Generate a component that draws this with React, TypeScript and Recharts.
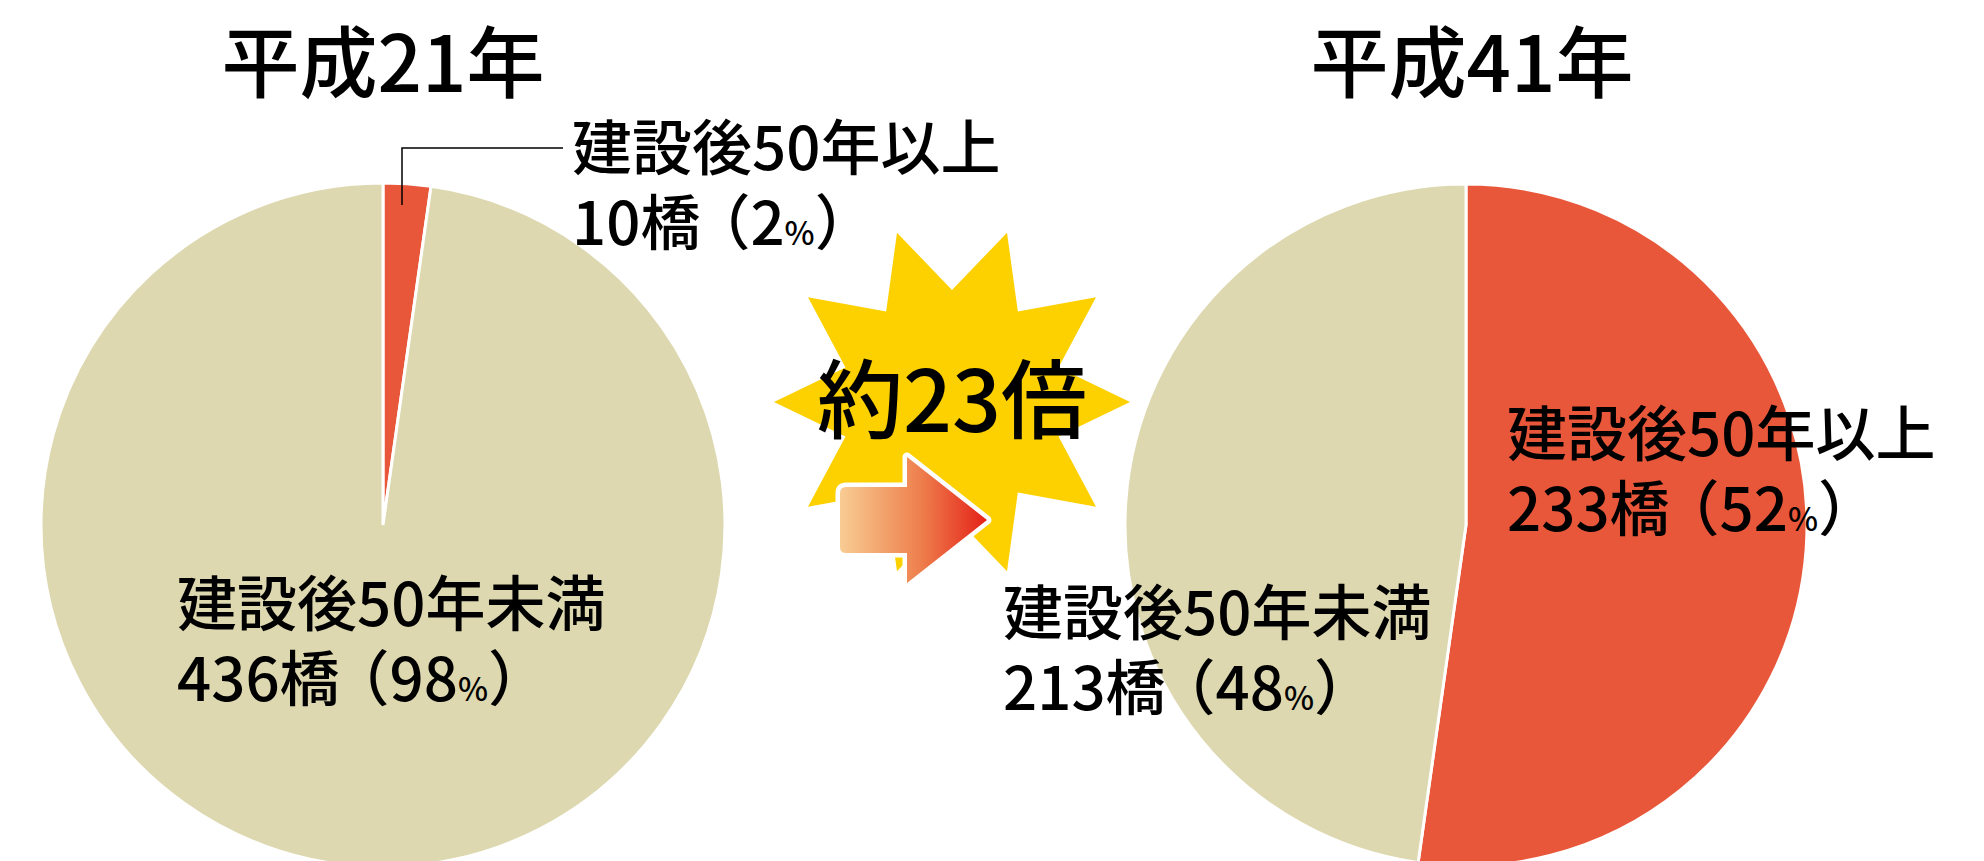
import { Pie, PieChart, Cell } from 'recharts';

// categories / values
const categories = ['建設後50年以上', '建設後50年未満'];
const years = ['平成21年', '平成41年'];
const h21Values = [10, 436];
const h41Values = [233, 213];
const ratioLabel = '約23倍';

const COLORS = ['#E9573A', '#DDD8AF'];
const FONT = "'Noto Sans CJK JP', 'Noto Sans', sans-serif";

const W = 1984;
const H = 861;

// label anchor (x, first-line baseline) per pie and slice
const LABEL_POS = [
  [{ x: 572, y: 170 }, { x: 177, y: 626 }],
  [{ x: 1507, y: 456 }, { x: 1003, y: 635 }],
];
const LINE_GAP = 75;

const PIES = [
  { cx: 383, cy: 525, r: 342, values: h21Values, titleX: 383 },
  { cx: 1466, cy: 525, r: 341, values: h41Values, titleX: 1472 },
];

function makeLabel(pieIdx: number) {
  return (props: any) => {
    const { index, value, percent } = props;
    const pos = LABEL_POS[pieIdx][index];
    const pct = Math.round(percent * 100);
    return (
      <g key={`lbl-${pieIdx}-${index}`}>
        {pieIdx === 0 && index === 0 && (
          <polyline
            points="563,148 402,148 402,205"
            fill="none"
            stroke="#000"
            strokeWidth={1.5}
          />
        )}
        <text fontFamily={FONT} fontSize={60} fontWeight={500} fill="#000">
          <tspan x={pos.x} y={pos.y}>{categories[index]}</tspan>
          <tspan x={pos.x} y={pos.y + LINE_GAP}>
            {value}橋
            <tspan dx={-10}>（</tspan>
            {pct}
            <tspan fontSize={32}>%</tspan>）
          </tspan>
        </text>
      </g>
    );
  };
}

// 10-point burst behind the ratio text
function starPoints(cx: number, cy: number, ro: number, ri: number, n: number) {
  const pts: string[] = [];
  for (let i = 0; i < n * 2; i++) {
    const r = i % 2 === 0 ? ro : ri;
    const a = (Math.PI / n) * i;
    pts.push(`${cx + r * Math.cos(a)},${cy + r * Math.sin(a)}`);
  }
  return pts.join(' ');
}

export default function App() {
  const pieData = PIES.map((p) =>
    p.values.map((v, i) => ({ name: categories[i], value: v }))
  );

  return (
    <div
      style={{
        position: 'absolute',
        left: 0,
        top: 0,
        width: W,
        height: H,
        overflow: 'hidden',
        background: '#fff',
      }}
    >
      <svg
        width={W}
        height={H}
        style={{ position: 'absolute', left: 0, top: 0 }}
      >
        <defs>
          <linearGradient id="arrowGrad" x1="0" y1="0" x2="1" y2="0">
            <stop offset="0%" stopColor="#F8CC93" />
            <stop offset="55%" stopColor="#EE7F4C" />
            <stop offset="100%" stopColor="#E42119" />
          </linearGradient>
        </defs>
        <polygon points={starPoints(952, 402, 178, 112, 10)} fill="#FDD000" />
        <path
          d="M846,487 L907,487 L907,457 L987,520 L907,583 L907,553 L846,553 Q840,553 840,547 L840,493 Q840,487 846,487 Z"
          fill="url(#arrowGrad)"
          stroke="#fff"
          strokeWidth={9}
          strokeLinejoin="round"
          paintOrder="stroke"
        />
        <text
          x={952}
          y={432}
          textAnchor="middle"
          fontFamily={FONT}
          fontSize={86}
          fontWeight={500}
          fill="#000"
        >
          {ratioLabel}
        </text>
        {PIES.map((p, i) => (
          <text
            key={years[i]}
            x={p.titleX}
            y={92}
            textAnchor="middle"
            fontFamily={FONT}
            fontWeight={500}
            fontSize={78}
            fill="#000"
          >
            {years[i]}
          </text>
        ))}
      </svg>
      <div style={{ position: 'absolute', left: 0, top: 0 }}>
        <PieChart width={W} height={H} margin={{ top: 0, right: 0, bottom: 0, left: 0 }}>
          {PIES.map((p, pi) => (
            <Pie
              key={years[pi]}
              data={pieData[pi]}
              dataKey="value"
              nameKey="name"
              cx={p.cx}
              cy={p.cy}
              outerRadius={p.r}
              innerRadius={0}
              startAngle={90}
              endAngle={-270}
              stroke="#fff"
              strokeWidth={3}
              label={makeLabel(pi)}
              labelLine={false}
              isAnimationActive={false}
            >
              {pieData[pi].map((d, i) => (
                <Cell key={d.name} fill={COLORS[i]} />
              ))}
            </Pie>
          ))}
        </PieChart>
      </div>
    </div>
  );
}
